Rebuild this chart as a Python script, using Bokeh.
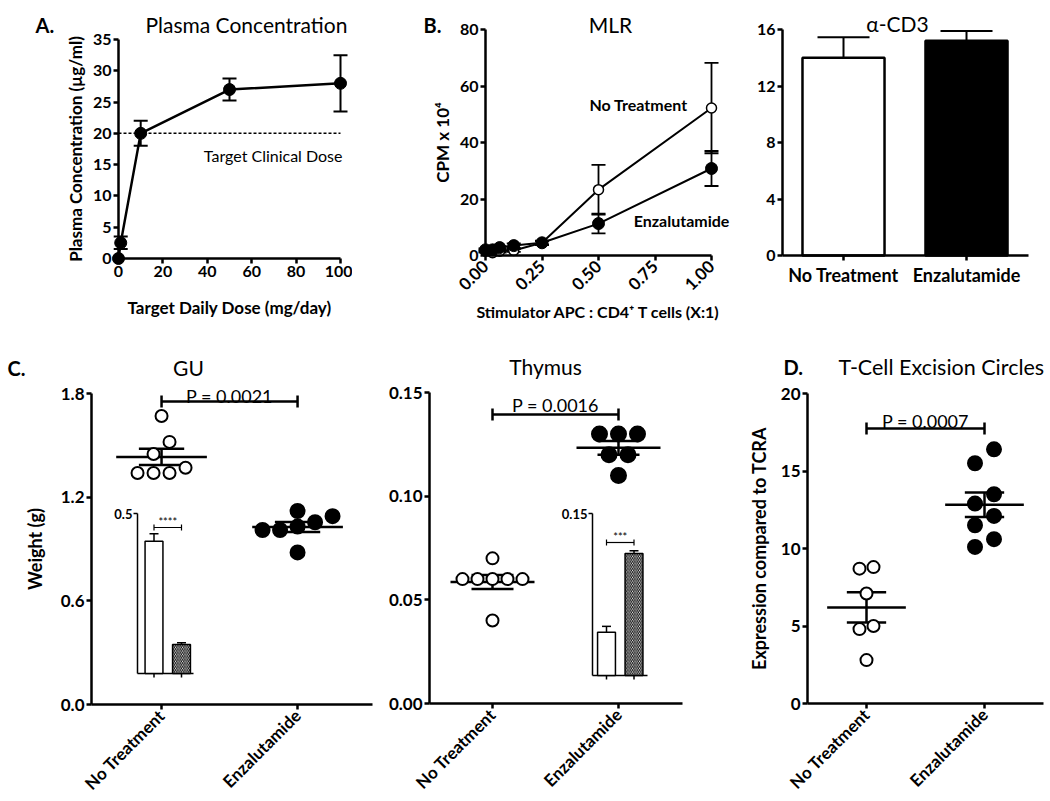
import numpy as np
from bokeh.plotting import figure
from bokeh.models import (Range1d, Label, Whisker, TeeHead, ColumnDataSource,
                          FixedTicker, NumeralTickFormatter)
from bokeh.layouts import row, column
from bokeh.embed import file_html
from bokeh.resources import INLINE

FONT = "Lato"

# ---------------- data ----------------
# A. Plasma concentration
dose = [0, 1, 10, 50, 100]
plasma = [0.0, 2.5, 20.0, 27.0, 28.0]
plasma_err = [0.0, 1.0, 2.0, 1.75, 4.5]
target_clinical = 20

# B. MLR
ratio = [0, 0.03125, 0.0625, 0.125, 0.25, 0.5, 1.0]
mlr_nt = [1.5, 1.0, 1.5, 1.8, 4.5, 23.3, 52.2]
mlr_nt_err = [0.5, 0.3, 0.5, 0.5, 0.8, 8.8, 16.0]
mlr_enz = [2.0, 2.0, 2.8, 3.5, 4.5, 11.3, 30.8]
mlr_enz_err = [0.5, 0.5, 0.5, 0.8, 0.6, 3.5, 6.2]

# alpha-CD3
groups = ["No Treatment", "Enzalutamide"]
cd3 = [14.0, 15.2]
cd3_err = [1.45, 0.7]

# C. GU weights
gu_nt = [1.67, 1.52, 1.45, 1.37, 1.34, 1.34, 1.34]
gu_enz = [1.12, 1.09, 1.055, 1.03, 1.01, 1.01, 0.88]
gu_inset = [0.413, 0.091]
gu_inset_err = [0.024, 0.005]

# C. Thymus weights
thy_nt = [0.070, 0.060, 0.060, 0.060, 0.060, 0.060, 0.040]
thy_enz = [0.130, 0.130, 0.130, 0.120, 0.120, 0.110]
thy_inset = [0.040, 0.113]
thy_inset_err = [0.0055, 0.0025]

# D. TREC
trec_nt = [8.8, 8.7, 7.1, 5.0, 4.8, 2.8]
trec_enz = [16.4, 15.5, 13.5, 12.9, 12.1, 11.5, 10.6, 10.1]

p_values = ["P = 0.0021", "P = 0.0016", "P = 0.0007"]


# ---------------- helpers ----------------
def geo(fx0, fy0, fw, fh, L, R, T, B, xr, yr):
    return dict(fx0=fx0, fy0=fy0, fw=fw, fh=fh, L=L, R=R, T=T, B=B, xr=xr, yr=yr)


def to_data(g, px, py):
    x0, x1 = g['xr']
    y0, y1 = g['yr']
    x = x0 + (px - g['L']) / (g['R'] - g['L']) * (x1 - x0)
    y = y0 + (g['B'] - py) / (g['B'] - g['T']) * (y1 - y0)
    return x, y


def make_fig(g, tick_size=16):
    xs, ys = to_data(g, g['fx0'], g['fy0'] + g['fh'])
    xe, ye = to_data(g, g['fx0'] + g['fw'], g['fy0'])
    p = figure(width=g['fw'], height=g['fh'], title=None,
               x_range=Range1d(xs, xe), y_range=Range1d(ys, ye),
               output_backend="svg", toolbar_location=None,
               min_border_left=0, min_border_right=0,
               min_border_top=0, min_border_bottom=0)
    p.xgrid.visible = False
    p.ygrid.visible = False
    p.outline_line_color = None
    xa, ya = p.xaxis[0], p.yaxis[0]
    xa.fixed_location = g['yr'][0]
    xa.bounds = g['xr']
    ya.fixed_location = g['xr'][0]
    ya.bounds = g['yr']
    for ax in (xa, ya):
        ax.axis_line_width = 2.5
        ax.axis_line_color = "black"
        ax.major_tick_line_width = 2.5
        ax.major_tick_line_color = "black"
        ax.major_tick_in = 0
        ax.major_tick_out = 5
        ax.minor_tick_line_color = None
        ax.major_label_text_font = FONT
        ax.major_label_text_font_style = "bold"
        ax.major_label_text_font_size = f"{tick_size}px"
        ax.major_label_text_color = "black"
        ax.axis_label_text_font = FONT
        ax.axis_label_text_font_style = "bold"
        ax.axis_label_text_color = "black"
        ax.major_label_standoff = 2
    return p


def add_text(p, g, px, py, text, size, style="normal", align="left",
             baseline="alphabetic", angle=0.0):
    x, y = to_data(g, px, py)
    p.add_layout(Label(x=x, y=y, text=text, text_font=FONT,
                       text_font_size=f"{size}px", text_font_style=style,
                       text_align=align, text_baseline=baseline, angle=angle,
                       text_color="black"))


def swarm(vals, g, spacing):
    vals = np.asarray(vals, dtype=float)
    ppu_y = (g['B'] - g['T']) / (g['yr'][1] - g['yr'][0])
    upp_x = (g['xr'][1] - g['xr'][0]) / (g['R'] - g['L'])
    order = np.argsort(vals, kind="stable")
    rows, cur = [], []
    for i in order:
        if cur and (vals[i] - vals[cur[0]]) * ppu_y >= 0.9 * spacing:
            rows.append(cur)
            cur = []
        cur.append(i)
    rows.append(cur)
    off = np.zeros(len(vals))
    for r in rows:
        n = len(r)
        for k, i in enumerate(r):
            off[i] = (k - (n - 1) / 2) * spacing * upp_x
    return off


def mean_sem(p, xc, vals):
    m = float(np.mean(vals))
    s = float(np.std(vals, ddof=1) / np.sqrt(len(vals)))
    p.segment(x0=[xc - 1/3, xc - 1/6, xc - 1/6, xc],
              y0=[m, m + s, m - s, m - s],
              x1=[xc + 1/3, xc + 1/6, xc + 1/6, xc],
              y1=[m, m + s, m - s, m + s], line_width=2.5, color="black")


def dots(p, g, xc, vals, filled, size, spacing):
    off = swarm(vals, g, spacing)
    p.scatter(x=xc + off, y=vals, size=size, marker="circle",
              fill_color="black" if filled else "white",
              line_color="black", line_width=2)


def bracket(p, g, yb, text, text_py):
    p.segment(x0=[0], y0=[yb], x1=[1], y1=[yb], line_width=2.5, color="black")
    p.scatter(x=[0, 1], y=[yb, yb], marker="dash", angle=np.pi / 2, size=12,
              line_width=2.5, line_color="black")
    _, yt = to_data(g, g['L'], text_py)
    p.add_layout(Label(x=0.5, y=yt, text=text, text_font=FONT, text_font_size="18px",
                       text_align="center", text_baseline="alphabetic",
                       text_color="black"))


def inset(p, g, ins, vals, errs, stars, top_label):
    ux = ins['c1'] - ins['c0']
    uy = (ins['b'] - ins['t']) / ins['vtop']
    p.extra_x_ranges = {"ix": Range1d((g['fx0'] - ins['c0']) / ux,
                                      (g['fx0'] + g['fw'] - ins['c0']) / ux)}
    p.extra_y_ranges = {"iy": Range1d(-(g['fy0'] + g['fh'] - ins['b']) / uy,
                                      (ins['b'] - g['fy0']) / uy)}
    X = lambda px: (px - ins['c0']) / ux
    Y = lambda py: (ins['b'] - py) / uy
    kw = dict(x_range_name="ix", y_range_name="iy")
    ax, xe, vt = X(ins['axis']), X(ins['end']), ins['vtop']
    p.segment(x0=[ax, ax, X(ins['axis'] - 4), 0, 1],
              y0=[0, 0, vt, 0, 0],
              x1=[ax, xe, ax, 0, 1],
              y1=[vt, 0, vt, Y(ins['b'] + 4), Y(ins['b'] + 4)],
              line_width=1.5, color="black", **kw)
    top = [v + e for v, e in zip(vals, errs)]
    p.segment(x0=[0, 1], y0=vals, x1=[0, 1], y1=top, line_width=1.5, color="black", **kw)
    p.scatter(x=[0, 1], y=top, marker="dash", size=9, line_width=1.5,
              line_color="black", **kw)
    p.vbar(x=[0], top=[vals[0]], bottom=0, width=0.65, fill_color="white",
           line_color="black", line_width=1.5, **kw)
    p.vbar(x=[1], top=[vals[1]], bottom=0, width=0.65, fill_color="white",
           line_color="black", line_width=1.5, hatch_pattern="left_diagonal_line",
           hatch_scale=3.5, hatch_weight=1, hatch_color="black", **kw)
    yb = Y(ins['br'])
    p.segment(x0=[0], y0=[yb], x1=[1], y1=[yb], line_width=1.2, color="black", **kw)
    p.scatter(x=[0, 1], y=[yb, yb], marker="dash", angle=np.pi / 2, size=6,
              line_width=1.2, line_color="black", **kw)
    p.add_layout(Label(x=0.5, y=yb, text=stars, text_font=FONT, text_font_size="11px",
                       text_align="center", text_baseline="bottom", text_color="black", **kw))
    p.add_layout(Label(x=X(ins['axis'] - 5), y=vt, text=top_label, text_font=FONT,
                       text_font_size="13px", text_font_style="bold", text_align="right",
                       text_baseline="middle", text_color="black", **kw))


def category_axis(p, size):
    p.xaxis.ticker = FixedTicker(ticks=[0, 1])
    p.xaxis.major_label_overrides = {0: groups[0], 1: groups[1]}
    p.xaxis.major_label_orientation = np.pi / 4
    p.xaxis.major_label_text_font_size = f"{size}px"
    p.xaxis.major_label_standoff = 3


# ---------------- Panel A ----------------
gA = geo(0, 0, 352, 326, 118, 340, 39, 258, (0, 100), (0, 35))
pA = make_fig(gA, 16)
pA.xaxis.ticker = FixedTicker(ticks=[0, 20, 40, 60, 80, 100])
pA.yaxis.ticker = FixedTicker(ticks=[0, 5, 10, 15, 20, 25, 30, 35])
pA.xaxis.axis_label = "Target Daily Dose (mg/day)"
pA.yaxis.axis_label = "Plasma Concentration (µg/ml)"
pA.xaxis.axis_label_text_font_size = "17px"
pA.yaxis.axis_label_text_font_size = "17px"
pA.xaxis.axis_label_standoff = 17
pA.yaxis.axis_label_standoff = 4
pA.line([min(dose), max(dose)], [target_clinical] * 2, line_dash="3 2",
        line_width=1.5, color="black")
ea = [(d, v - e, v + e) for d, v, e in zip(dose, plasma, plasma_err) if e > 0]
srcAe = ColumnDataSource(dict(x=[a[0] for a in ea], lo=[a[1] for a in ea], hi=[a[2] for a in ea]))
pA.add_layout(Whisker(source=srcAe, base="x", lower="lo", upper="hi", line_width=2,
                      upper_head=TeeHead(size=14, line_width=2),
                      lower_head=TeeHead(size=14, line_width=2), level="underlay"))
pA.line(dose, plasma, line_width=2.5, color="black")
pA.scatter(dose, plasma, size=12, color="black")
add_text(pA, gA, 342, 155, "Target Clinical Dose", 16, align="right")
add_text(pA, gA, 35, 24, "A.", 20, style="bold")
add_text(pA, gA, 145, 24, "Plasma Concentration", 21)

# ---------------- Panel B ----------------
gB = geo(352, 0, 388, 326, 485, 711, 29, 255, (0, 1), (0, 80))
pB = make_fig(gB, 16)
pB.xaxis.ticker = FixedTicker(ticks=[0, 0.25, 0.5, 0.75, 1.0])
pB.xaxis.formatter = NumeralTickFormatter(format="0.00")
pB.xaxis.major_label_orientation = np.pi / 4
pB.xaxis.major_label_text_font_size = "17px"
pB.xaxis.major_label_standoff = 3
pB.yaxis.ticker = FixedTicker(ticks=[0, 20, 40, 60, 80])
pB.xaxis.axis_label = "Stimulator APC : CD4\u207a T cells (X:1)"
pB.yaxis.axis_label = "CPM x 10\u2074"
pB.xaxis.axis_label_text_font_size = "16px"
pB.yaxis.axis_label_text_font_size = "17px"
pB.xaxis.axis_label_standoff = 3
pB.yaxis.axis_label_standoff = 4
for vals, errs in ((mlr_nt, mlr_nt_err), (mlr_enz, mlr_enz_err)):
    s = ColumnDataSource(dict(x=ratio, lo=[v - e for v, e in zip(vals, errs)],
                              hi=[v + e for v, e in zip(vals, errs)]))
    pB.add_layout(Whisker(source=s, base="x", lower="lo", upper="hi", line_width=1.8,
                          upper_head=TeeHead(size=14, line_width=1.8),
                          lower_head=TeeHead(size=14, line_width=1.8), level="underlay"))
pB.line(ratio, mlr_nt, line_width=2, color="black")
pB.line(ratio, mlr_enz, line_width=2, color="black")
pB.scatter(ratio, mlr_nt, size=10, fill_color="white", line_color="black", line_width=1.5)
pB.scatter(ratio, mlr_enz, size=12, color="black")
add_text(pB, gB, 638, 104, groups[0], 16, style="bold", align="center", baseline="middle")
add_text(pB, gB, 681, 220, groups[1], 16, style="bold", align="center", baseline="middle")
add_text(pB, gB, 423, 24, "B.", 20, style="bold")
add_text(pB, gB, 610, 24, "MLR", 21, align="center")

# ---------------- alpha-CD3 ----------------
gC3 = geo(740, 0, 308, 326, 782, 1028, 29, 255, (-0.496, 1.504), (0, 16))
pC3 = make_fig(gC3, 16)
pC3.xaxis.ticker = FixedTicker(ticks=[0, 1])
pC3.xaxis.major_label_overrides = {0: groups[0], 1: groups[1]}
pC3.xaxis.major_label_text_font_size = "18px"
pC3.xaxis.major_label_standoff = 3
pC3.yaxis.ticker = FixedTicker(ticks=[0, 4, 8, 12, 16])
pC3.vbar(x=[0, 1], top=cd3, width=0.667, fill_color=["white", "black"],
         line_color="black", line_width=2.5)
s3 = ColumnDataSource(dict(x=[0, 1], lo=cd3, hi=[v + e for v, e in zip(cd3, cd3_err)]))
pC3.add_layout(Whisker(source=s3, base="x", lower="lo", upper="hi", line_width=2,
                       upper_head=TeeHead(size=52, line_width=2), lower_head=None))
add_text(pC3, gC3, 897, 23, "\u03b1-CD3", 21, align="center")

# ---------------- C. GU ----------------
gGU = geo(0, 326, 380, 473, 91, 372, 393, 704, (-0.515, 1.551), (0, 1.8))
pGU = make_fig(gGU, 17)
pGU.yaxis.ticker = FixedTicker(ticks=[0, 0.6, 1.2, 1.8])
pGU.yaxis.formatter = NumeralTickFormatter(format="0.0")
category_axis(pGU, 17)
pGU.yaxis.axis_label = "Weight (g)"
pGU.yaxis.axis_label_text_font_size = "18px"
pGU.yaxis.axis_label_standoff = 12
inset(pGU, gGU, dict(c0=153.5, c1=181, b=673, t=513, vtop=0.5, axis=137, end=193, br=527),
      gu_inset, gu_inset_err, "****", "0.5")
mean_sem(pGU, 0, gu_nt)
mean_sem(pGU, 1, gu_enz)
dots(pGU, gGU, 0, gu_nt, False, 12, 16)
dots(pGU, gGU, 1, gu_enz, True, 14, 17.5)
bracket(pGU, gGU, to_data(gGU, 0, 401)[1], p_values[0], 395)
add_text(pGU, gGU, 7, 367, "C.", 20, style="bold")
add_text(pGU, gGU, 188, 367, "GU", 21, align="center")

# ---------------- C. Thymus ----------------
gTh = geo(380, 326, 350, 473, 429, 682, 392, 703, (-0.5, 1.508), (0, 0.15))
pTh = make_fig(gTh, 17)
pTh.yaxis.ticker = FixedTicker(ticks=[0, 0.05, 0.10, 0.15])
pTh.yaxis.formatter = NumeralTickFormatter(format="0.00")
category_axis(pTh, 17)
inset(pTh, gTh, dict(c0=606, c1=633.5, b=675, t=513, vtop=0.15, axis=592, end=647, br=542),
      thy_inset, thy_inset_err, "***", "0.15")
mean_sem(pTh, 0, thy_nt)
mean_sem(pTh, 1, thy_enz)
dots(pTh, gTh, 0, thy_nt, False, 12, 15)
dots(pTh, gTh, 1, thy_enz, True, 15, 19)
bracket(pTh, gTh, to_data(gTh, 0, 414)[1], p_values[1], 404)
add_text(pTh, gTh, 545, 366, "Thymus", 21, align="center")

# ---------------- D. TREC ----------------
gD = geo(730, 326, 318, 473, 807, 1043, 393, 703, (-0.5, 1.5), (0, 20))
pD = make_fig(gD, 17)
pD.yaxis.ticker = FixedTicker(ticks=[0, 5, 10, 15, 20])
category_axis(pD, 17)
pD.yaxis.axis_label = "Expression compared to TCRA"
pD.yaxis.axis_label_text_font_size = "18px"
pD.yaxis.axis_label_standoff = 8
mean_sem(pD, 0, trec_nt)
mean_sem(pD, 1, trec_enz)
dots(pD, gD, 0, trec_nt, False, 12, 14)
dots(pD, gD, 1, trec_enz, True, 14, 19)
bracket(pD, gD, to_data(gD, 0, 428)[1], p_values[2], 420)
add_text(pD, gD, 783, 366, "D.", 20, style="bold")
add_text(pD, gD, 838, 366, "T-Cell Excision Circles", 21.5)

layout = column(row(pA, pB, pC3), row(pGU, pTh, pD))
open("out.html", "w").write(file_html(layout, INLINE))
